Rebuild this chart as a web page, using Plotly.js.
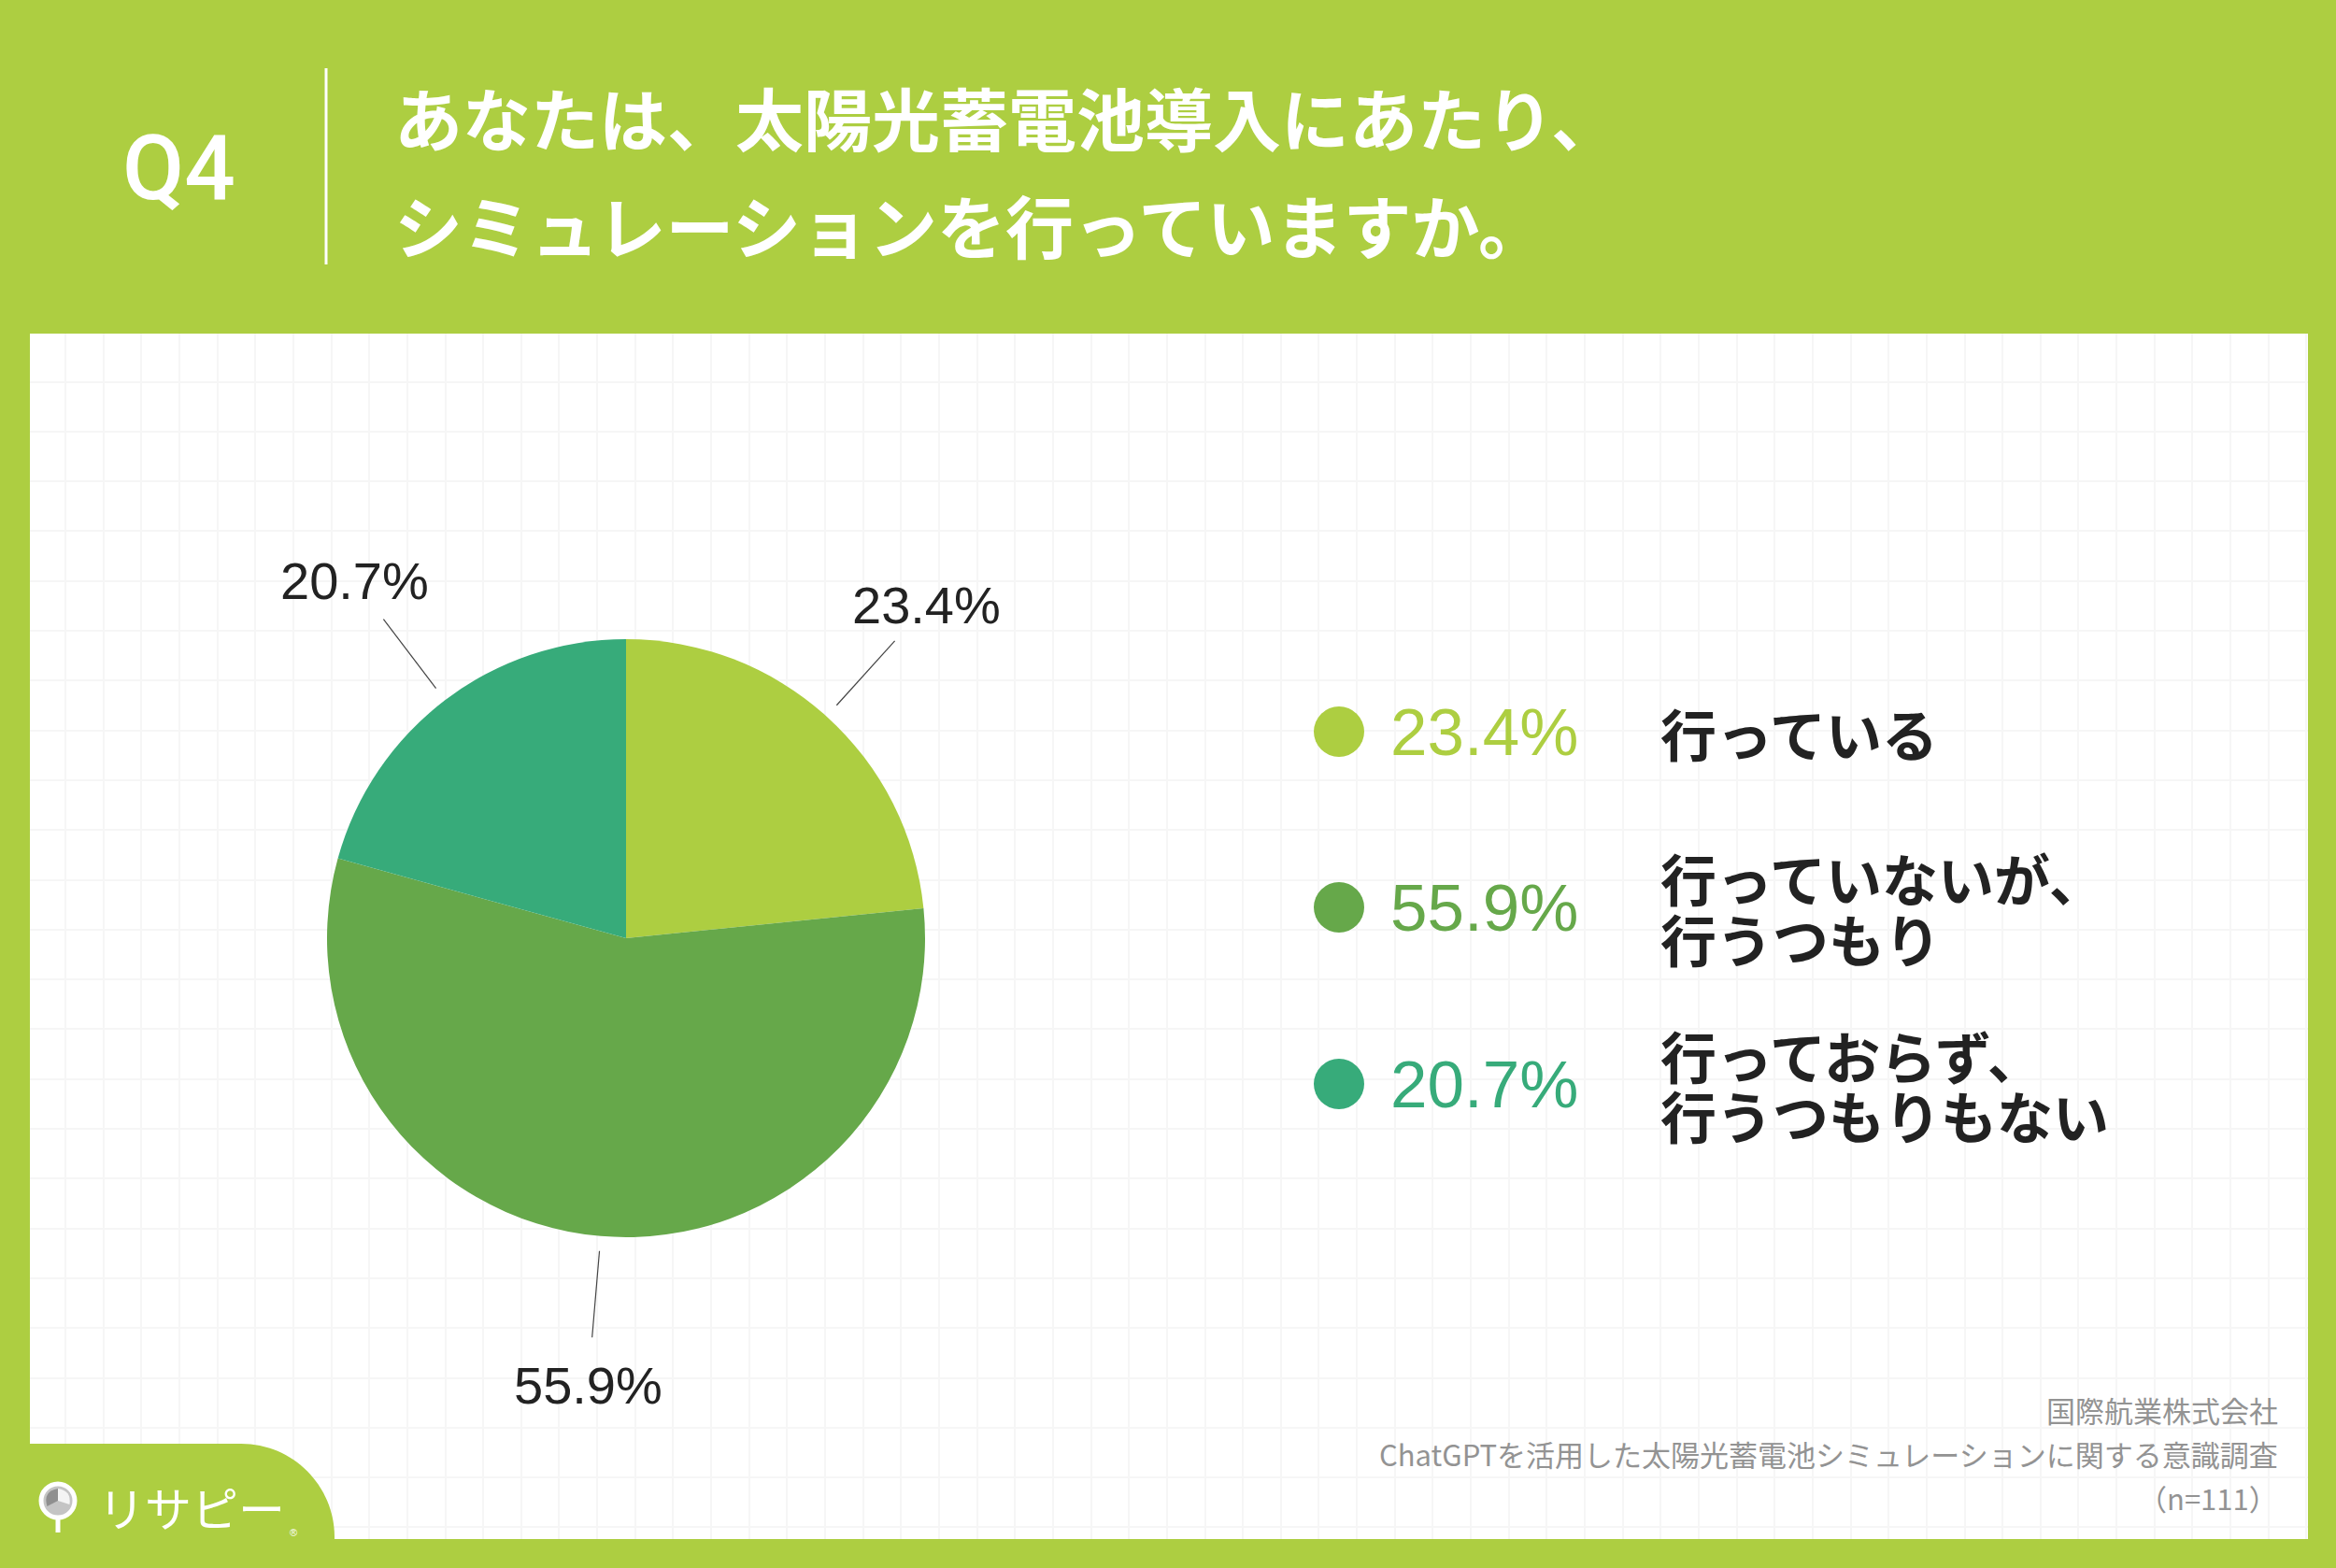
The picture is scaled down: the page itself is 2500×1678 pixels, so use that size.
<!DOCTYPE html>
<html><head><meta charset="utf-8">
<script src="https://cdn.plot.ly/plotly-3.0.1.min.js"></script>
<style>html,body{margin:0;padding:0;background:#ADCE41;} #chart{width:2500px;height:1678px;}</style>
</head><body><div id="chart"></div>
<script>
// ---- data ----
const categories = ['行っている', '行っていないが、\n行うつもり', '行っておらず、\n行うつもりもない'];
const values = [23.4, 55.9, 20.7];
const colors = ['#ADCE41', '#66A84A', '#37AB7A'];
const questionNo = 'Q4';
const titleLines = ['あなたは、太陽光蓄電池導入にあたり、', 'シミュレーションを行っていますか。'];
const sourceLines = ['国際航業株式会社', 'ChatGPTを活用した太陽光蓄電池シミュレーションに関する意識調査', '（n=111）'];
const logoText = 'リサピー';

// ---- layout helpers ----
const W = 2500, H = 1678;
const px = x => x / W, py = y => 1 - y / H;
const JP = '"Noto Sans CJK JP", "Noto Sans", sans-serif';
const LAT = '"Liberation Sans", Arial, sans-serif';
const GREEN = '#ADCE41';
const P = {cx: 670, cy: 1004, r: 320};
const panel = {x0: 32, x1: 2470, y0: 357, y1: 1647};

const shapes = [];
const annotations = [];

// header
annotations.push({xref:'paper', yref:'paper', x:px(191), y:py(180), xanchor:'center', yanchor:'middle',
  text: questionNo, showarrow:false, font:{family:'Roboto, "Liberation Sans", Arial, sans-serif', size:96, weight:500, color:'#ffffff'}});
shapes.push({type:'line', xref:'paper', yref:'paper', x0:px(349), x1:px(349), y0:py(73), y1:py(283),
  line:{color:'#ffffff', width:3}, layer:'above'});
titleLines.forEach((t, i) => annotations.push({xref:'paper', yref:'paper', x:px(420), y:py(124 + i*115),
  xanchor:'left', yanchor:'middle', text:'<b>' + t + '</b>', showarrow:false,
  font:{family:JP, size:73, color:'#ffffff'}}));

// pie labels + leader lines
const total = values.reduce((a, b) => a + b, 0);
let cum = 0;
values.forEach((v, i) => {
  const th = 2 * Math.PI * (cum + v / 2) / total;
  cum += v;
  const pt = d => [P.cx + d * P.r * Math.sin(th), P.cy - d * P.r * Math.cos(th)];
  const a = pt(1.05), b = pt(1.34), c = pt(1.5);
  shapes.push({type:'line', xref:'paper', yref:'paper', x0:px(a[0]), y0:py(a[1]), x1:px(b[0]), y1:py(b[1]),
    line:{color:'#444444', width:1.2}, layer:'above'});
  annotations.push({xref:'paper', yref:'paper', x:px(c[0]), y:py(c[1]), xanchor:'center', yanchor:'middle',
    text: v.toFixed(1) + '%', showarrow:false, font:{family:LAT, size:56, color:'#222222'}});
});

// legend
const legY = [783, 971, 1160];
values.forEach((v, i) => {
  const cy = legY[i], cx = 1433, rr = 27;
  shapes.push({type:'circle', xref:'paper', yref:'paper', x0:px(cx - rr), x1:px(cx + rr), y0:py(cy + rr), y1:py(cy - rr),
    fillcolor:colors[i], line:{width:0}, layer:'above'});
  annotations.push({xref:'paper', yref:'paper', x:px(1486), y:py(cy), xanchor:'left', yanchor:'middle',
    text: v.toFixed(1) + '%', showarrow:false, font:{family:LAT, size:71, color:colors[i]}});
  const lines = categories[i].split('\n');
  lines.forEach((ln, k) => {
    const yy = cy + (k - (lines.length - 1) / 2) * 64;
    annotations.push({xref:'paper', yref:'paper', x:px(1775), y:py(yy), xanchor:'left', yanchor:'middle',
      text:'<b>' + ln + '</b>', showarrow:false, font:{family:JP, size:60, color:'#222222'}});
  });
});

// source
sourceLines.forEach((t, i) => annotations.push({xref:'paper', yref:'paper', x:px(2440), y:py(1508 + i*47),
  xanchor:'right', yanchor:'middle', text:t, showarrow:false, font:{family:JP, size:31, color:'#939393'}}));

// logo tab
(function(){
  const R = 100, x0 = panel.x0 - 2, x1 = 358, yt = 1545, yb = panel.y1 + 4, k = 0.5523 * R;
  const path = `M ${px(x0)} ${py(yt)} L ${px(x1 - R)} ${py(yt)} C ${px(x1 - R + k)} ${py(yt)} ${px(x1)} ${py(yt + R - k)} ${px(x1)} ${py(yt + R)} L ${px(x1)} ${py(yb)} L ${px(x0)} ${py(yb)} Z`;
  shapes.push({type:'path', xref:'paper', yref:'paper', path, fillcolor:GREEN, line:{width:0}, layer:'above'});
  const cx = 62, cy = 1606;
  shapes.push({type:'line', xref:'paper', yref:'paper', x0:px(cx), x1:px(cx), y0:py(1624), y1:py(1640),
    line:{color:'#ffffff', width:5}, layer:'above'});
  shapes.push({type:'circle', xref:'paper', yref:'paper', x0:px(cx - 18), x1:px(cx + 18), y0:py(cy + 18), y1:py(cy - 18),
    fillcolor:'#c4c4c4', line:{color:'#ffffff', width:5}, layer:'above'});
  const rr = 13;
  const sect = (a0, a1, col) => {
    const p = a => [cx + rr * Math.sin(a), cy - rr * Math.cos(a)];
    const s = p(a0), e = p(a1), m = p((a0 + a1) / 2);
    shapes.push({type:'path', xref:'paper', yref:'paper', fillcolor:col, line:{width:0}, layer:'above',
      path:`M ${px(cx)} ${py(cy)} L ${px(s[0])} ${py(s[1])} Q ${px(2*m[0]-(s[0]+e[0])/2)} ${py(2*m[1]-(s[1]+e[1])/2)} ${px(e[0])} ${py(e[1])} Z`});
  };
  sect(0, Math.PI * 0.6, '#f4f4f4');
  sect(Math.PI * 1.35, Math.PI * 2, '#8f8f8f');
  annotations.push({xref:'paper', yref:'paper', x:px(103), y:py(1612), xanchor:'left', yanchor:'middle',
    text:logoText, showarrow:false, font:{family:JP, size:50, color:'#ffffff'}});
  annotations.push({xref:'paper', yref:'paper', x:px(314), y:py(1640), xanchor:'center', yanchor:'middle',
    text:'®', showarrow:false, font:{family:LAT, size:11, color:'#ffffff'}});
})();

const traces = [
  {type:'scatter', x:[], y:[], xaxis:'x', yaxis:'y', hoverinfo:'skip', showlegend:false},
  {type:'pie', values: values, labels: categories, sort:false, direction:'clockwise', rotation:0,
   marker:{colors: colors, line:{width:0}}, textinfo:'none', hoverinfo:'skip', showlegend:false,
   domain:{x:[px(P.cx - P.r), px(P.cx + P.r)], y:[py(P.cy + P.r), py(P.cy - P.r)]}}
];

const layout = {
  width: W, height: H, margin:{l:0, r:0, t:0, b:0, pad:0},
  paper_bgcolor: GREEN, plot_bgcolor: '#ffffff', showlegend:false,
  xaxis:{domain:[px(panel.x0), px(panel.x1)], range:[panel.x0, panel.x1], tick0:70, dtick:40.65,
    showgrid:true, gridcolor:'#f6f6f6', gridwidth:2, zeroline:false, showticklabels:false, ticks:'', showline:false, fixedrange:true},
  yaxis:{domain:[py(panel.y1), py(panel.y0)], range:[panel.y1, panel.y0], tick0:408.5, dtick:53.3,
    showgrid:true, gridcolor:'#f6f6f6', gridwidth:2, zeroline:false, showticklabels:false, ticks:'', showline:false, fixedrange:true},
  shapes, annotations
};

Plotly.newPlot('chart', traces, layout, {staticPlot:true, displayModeBar:false});
</script>
</body></html>
